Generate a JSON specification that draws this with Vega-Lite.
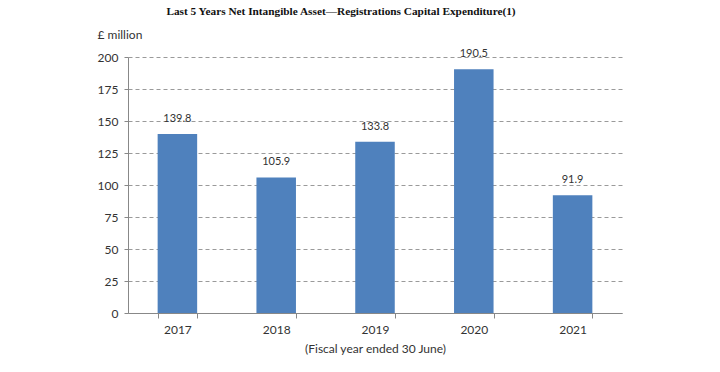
{
  "$schema": "https://vega.github.io/schema/vega-lite/v6.json",
  "autosize": "none",
  "width": 494,
  "height": 256,
  "padding": {"left": 128, "top": 57, "right": 98, "bottom": 59},
  "background": "white",
  "title": {
    "text": "Last 5 Years Net Intangible Asset\u2014Registrations Capital Expenditure(1)",
    "font": "Liberation Serif",
    "fontSize": 11.3,
    "fontWeight": "bold",
    "color": "#111111",
    "anchor": "middle",
    "frame": "group",
    "dx": -34,
    "offset": 11
  },
  "data": {
    "values": [
      {"year": "2017", "value": 139.8},
      {"year": "2018", "value": 105.9},
      {"year": "2019", "value": 133.8},
      {"year": "2020", "value": 190.5},
      {"year": "2021", "value": 91.9}
    ]
  },
  "config": {
    "view": {"stroke": null},
    "font": "Lato"
  },
  "encoding": {
    "x": {
      "field": "year",
      "type": "nominal",
      "scale": {"paddingInner": 0.6, "paddingOuter": 0.3},
      "axis": {
        "title": "(Fiscal year ended 30  June)",
        "titleFont": "Lato",
        "titleFontSize": 12,
        "titleFontWeight": "normal",
        "titleColor": "#333333",
        "titlePadding": 8,
        "labelAngle": 0,
        "labelFont": "Lato",
        "labelFontSize": 12,
        "labelColor": "#333333",
        "labelPadding": 6,
        "tickBand": "extent",
        "tickSize": 5,
        "tickColor": "#888888",
        "domainColor": "#888888",
        "grid": false
      }
    },
    "y": {
      "field": "value",
      "type": "quantitative",
      "scale": {"domain": [0, 200], "nice": false},
      "axis": {
        "values": [0, 25, 50, 75, 100, 125, 150, 175, 200],
        "title": "\u00a3 million",
        "titleAngle": 0,
        "titleAlign": "left",
        "titleBaseline": "middle",
        "titleX": -31,
        "titleY": -23,
        "titleFont": "Lato",
        "titleFontSize": 12,
        "titleFontWeight": "normal",
        "titleColor": "#333333",
        "labelFont": "Lato",
        "labelFontSize": 12,
        "labelColor": "#333333",
        "labelPadding": 6,
        "tickSize": 4,
        "tickColor": "#888888",
        "domainColor": "#888888",
        "grid": true,
        "gridColor": "#9a9a9a",
        "gridDash": [4, 3],
        "gridWidth": 1
      }
    }
  },
  "layer": [
    {"mark": {"type": "bar", "color": "#4F81BD"}},
    {
      "mark": {"type": "text", "dy": -15, "font": "Lato", "fontSize": 11, "color": "#333333"},
      "encoding": {"text": {"field": "value", "type": "quantitative", "format": ".1f"}}
    }
  ]
}
